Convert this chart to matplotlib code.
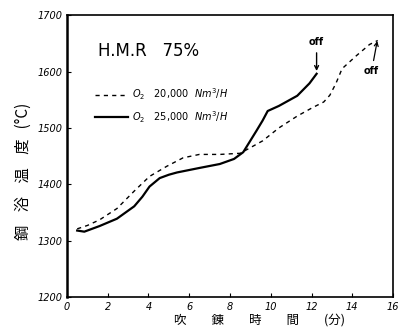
import numpy as np
import matplotlib.pyplot as plt
import matplotlib

matplotlib.rcParams.update({
    "font.family": ["DejaVu Sans"],
    "mathtext.fontset": "dejavusans",
})

# blowing time (min) vs. bath temperature (C)
t_25000 = [0.5, 0.85, 1.6, 2.45, 3.3, 3.7, 4.05, 4.55, 5.0, 5.4, 6.5, 7.5, 8.2,
           8.65, 9.3, 9.6, 9.85, 10.4, 11.3, 11.9, 12.25]
temp_25000 = [1318, 1316, 1326, 1339, 1361, 1378, 1396, 1411, 1417, 1421, 1429,
              1436, 1445, 1457, 1495, 1513, 1530, 1539, 1557, 1579, 1596]

t_20000 = [0.5, 1.0, 1.6, 2.45, 3.3, 4.05, 4.9, 5.7, 6.5, 7.5, 8.5, 9.6, 10.4,
           11.3, 12.05, 12.6, 12.9, 13.2, 13.5, 14.2, 14.85, 15.25]
temp_20000 = [1321, 1327, 1337, 1357, 1388, 1414, 1432, 1447, 1453, 1453, 1455,
              1477, 1500, 1521, 1536, 1546, 1558, 1579, 1605, 1628, 1648, 1655]

x_ticks = [0, 2, 4, 6, 8, 10, 12, 14, 16]
y_ticks = [1200, 1300, 1400, 1500, 1600, 1700]

cjk = ["Noto Sans CJK JP", "DejaVu Sans"]

fig = plt.figure(figsize=(4.06, 3.29), dpi=100)
ax = fig.add_axes([0.165, 0.097, 0.803, 0.857])

ax.plot(t_20000, temp_20000, color="black", linestyle=(0, (3, 3)), linewidth=1.0,
        label=r"$O_2$   $20{,}000\ \ Nm^3/H$")
ax.plot(t_25000, temp_25000, color="black", linestyle="-", linewidth=1.6,
        label=r"$O_2$   $25{,}000\ \ Nm^3/H$")

# "off" markers at the end of each blow
ax.annotate("off", xy=(t_25000[-1], temp_25000[-1]), xytext=(t_25000[-1], 1643),
            ha="center", va="bottom", fontsize=7, fontweight="bold",
            arrowprops=dict(arrowstyle="->", color="black", lw=1.0))
ax.annotate("off", xy=(t_20000[-1], temp_20000[-1] + 4), xytext=(t_20000[-1] - 0.3, 1592),
            ha="center", va="bottom", fontsize=7, fontweight="bold",
            arrowprops=dict(arrowstyle="->", color="black", lw=0.9))

ax.set_xlim(0, 16)
ax.set_ylim(1200, 1700)
ax.set_xticks(x_ticks)
ax.set_yticks(y_ticks)
ax.tick_params(direction="in", length=3, labelsize=7, width=0.8)
for lab in ax.get_xticklabels() + ax.get_yticklabels():
    lab.set_fontstyle("italic")
for side in ["left", "bottom", "right", "top"]:
    ax.spines[side].set_linewidth(1.2)
ax.spines["left"].set_linewidth(1.8)

ax.set_ylabel("鋼    浴    温    度   (°C)", family=cjk, fontsize=11, va="center")
ax.yaxis.set_label_coords(-0.135, 0.445)
ax.set_xlabel("吹\u3000\u3000錬\u3000\u3000時\u3000\u3000間\u3000\u3000(分)",
              family=cjk, fontsize=9, va="center")
ax.xaxis.set_label_coords(0.59, -0.082)

ax.text(0.095, 0.872, "H.M.R   75%", transform=ax.transAxes, fontsize=12,
        ha="left", va="center")
leg = ax.legend(loc="upper left", bbox_to_anchor=(0.086, 0.748), frameon=False,
                fontsize=7, borderpad=0, borderaxespad=0,
                handlelength=3.4, handletextpad=0.4, labelspacing=0.75)

fig.savefig("out.png", dpi=100)
